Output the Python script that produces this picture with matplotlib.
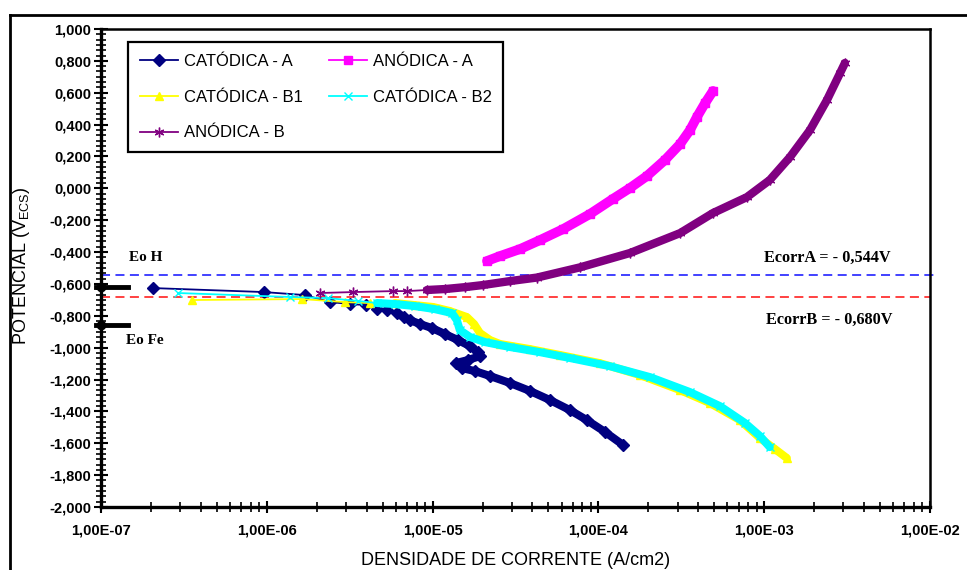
import numpy as np
import matplotlib
matplotlib.use('Agg')
import matplotlib.pyplot as plt
from matplotlib.lines import Line2D
from matplotlib.ticker import FixedLocator, FuncFormatter, LogLocator, NullFormatter

plt.rcParams['font.family'] = ['Liberation Sans', 'DejaVu Sans']
plt.rcParams['mathtext.fontset'] = 'custom'
plt.rcParams['mathtext.rm'] = 'Liberation Sans'

# Polarization curves: current density (A/cm2) vs potential (V vs SCE)
cat_a_i = [2.06e-7, 9.6e-7, 1.70e-6, 2.41e-6, 3.18e-6, 3.96e-6, 4.62e-6, 5.31e-6,
           6.10e-6, 6.72e-6, 7.31e-6, 8.40e-6, 9.92e-6, 1.19e-5, 1.42e-5, 1.68e-5,
           1.88e-5, 1.93e-5, 1.63e-5, 1.38e-5, 1.50e-5, 1.80e-5, 2.22e-5, 2.93e-5,
           3.87e-5, 5.11e-5, 6.74e-5, 8.53e-5, 1.10e-4, 1.41e-4]
cat_a_e = [-0.626, -0.651, -0.670, -0.714, -0.726, -0.733, -0.758, -0.764,
           -0.783, -0.808, -0.827, -0.852, -0.877, -0.915, -0.952, -0.990,
           -1.028, -1.053, -1.078, -1.097, -1.128, -1.147, -1.178, -1.222,
           -1.272, -1.329, -1.392, -1.455, -1.530, -1.611]
cat_a_dense = 8

an_a_i = [2.13e-5, 2.55e-5, 3.37e-5, 4.44e-5, 6.12e-5, 8.90e-5, 1.22e-4, 1.55e-4,
          1.96e-4, 2.52e-4, 3.11e-4, 3.57e-4, 3.93e-4, 4.40e-4, 4.91e-4]
an_a_e = [-0.456, -0.425, -0.381, -0.325, -0.256, -0.161, -0.067, 0.002,
          0.077, 0.178, 0.278, 0.366, 0.448, 0.535, 0.611]
an_a_dense = 0

cat_b1_i = [3.54e-7, 1.63e-6, 2.96e-6, 4.19e-6, 5.93e-6, 7.83e-6, 1.01e-5, 1.27e-5,
            1.61e-5, 1.78e-5, 1.93e-5, 2.22e-5, 2.55e-5, 3.87e-5, 5.87e-5, 1.02e-4,
            1.78e-4, 3.10e-4, 4.71e-4, 7.14e-4, 9.44e-4, 1.16e-3, 1.37e-3]
cat_b1_e = [-0.701, -0.695, -0.714, -0.720, -0.720, -0.733, -0.745, -0.770,
            -0.808, -0.852, -0.908, -0.952, -0.977, -1.009, -1.046, -1.097,
            -1.172, -1.266, -1.348, -1.455, -1.568, -1.636, -1.693]
cat_b1_dense = 4

cat_b2_i = [2.91e-7, 1.38e-6, 2.34e-6, 3.55e-6, 4.62e-6, 5.93e-6, 7.83e-6, 1.03e-5,
            1.31e-5, 1.40e-5, 1.46e-5, 1.68e-5, 2.07e-5, 2.93e-5, 4.44e-5, 6.74e-5,
            1.17e-4, 2.05e-4, 3.57e-4, 5.41e-4, 7.66e-4, 9.44e-4, 1.08e-3]
cat_b2_e = [-0.657, -0.682, -0.689, -0.707, -0.720, -0.726, -0.739, -0.758,
            -0.783, -0.827, -0.890, -0.933, -0.965, -0.996, -1.028, -1.065,
            -1.116, -1.185, -1.279, -1.367, -1.473, -1.555, -1.624]
cat_b2_dense = 4

an_b_i = [2.09e-6, 3.31e-6, 5.77e-6, 7.01e-6, 9.25e-6, 1.19e-5, 1.57e-5, 2.01e-5,
          2.93e-5, 4.26e-5, 7.74e-5, 1.55e-4, 3.11e-4, 4.91e-4, 7.87e-4, 1.08e-3,
          1.43e-3, 1.89e-3, 2.39e-3, 2.87e-3, 3.07e-3]
an_b_e = [-0.657, -0.651, -0.645, -0.645, -0.638, -0.632, -0.620, -0.607,
          -0.582, -0.560, -0.496, -0.406, -0.281, -0.155, -0.055, 0.052,
          0.196, 0.366, 0.554, 0.724, 0.787]
an_b_dense = 4

labels = ['CATÓDICA - A', 'ANÓDICA - A', 'CATÓDICA - B1', 'CATÓDICA - B2', 'ANÓDICA - B']

ecorr_a = -0.544
ecorr_b = -0.680
eo_h = -0.62
eo_fe = -0.86

fig = plt.figure(figsize=(9.67, 5.70), dpi=100)
ax = fig.add_axes([101 / 967, 1 - 507 / 570, 829 / 967, 478 / 570])


def draw(i, e, dense, color, marker, ms, band, label, z):
    ax.plot(i[dense:], e[dense:], color=color, lw=band, solid_capstyle='round',
            solid_joinstyle='round', zorder=z)
    line, = ax.plot(i, e, color=color, lw=1.3, marker=marker, ms=ms, mec=color,
                    mfc=color, label=label, zorder=z)
    return line


h_cat_a = draw(cat_a_i, cat_a_e, cat_a_dense, '#000080', 'D', 6.5, 5.8, labels[0], 3)
h_an_a = draw(an_a_i, an_a_e, an_a_dense, '#FF00FF', 's', 6, 7, labels[1], 4)
h_cat_b1 = draw(cat_b1_i, cat_b1_e, cat_b1_dense, '#FFFF00', '^', 6, 5.8, labels[2], 5)
h_cat_b2 = draw(cat_b2_i, cat_b2_e, cat_b2_dense, '#00FFFF', 'x', 6, 5.8, labels[3], 6)
h_an_b = draw(an_b_i, an_b_e, an_b_dense, '#800080', (6, 2, 0), 7, 6, labels[4], 7)

# corrosion potentials
ax.axhline(ecorr_a, color='#3333FF', lw=1.3, dashes=(5, 3), xmax=1.006, clip_on=False, zorder=2)
ax.axhline(ecorr_b, color='#FF3333', lw=1.3, dashes=(5, 3), zorder=2)

# standard potentials marked on the axis
for lvl in [eo_h, eo_fe]:
    ax.plot([9.3e-8, 1.46e-7], [lvl, lvl], color='k', lw=3.5, clip_on=False, zorder=8)
    ax.plot([1e-7], [lvl], 'o', color='k', ms=6, clip_on=False, zorder=8)

serif = dict(family='Liberation Serif', fontweight='bold')
ax.text(0.034, 0.521, 'Eo H', transform=ax.transAxes, va='center', ha='left', fontsize=11, **serif)
ax.text(0.030, 0.349, 'Eo Fe', transform=ax.transAxes, va='center', ha='left', fontsize=11, **serif)
ax.text(0.876, 0.521, 'EcorrA = - 0,544V', transform=ax.transAxes, va='center', ha='center',
        fontsize=11.7, **serif)
ax.text(0.879, 0.391, 'EcorrB = - 0,680V', transform=ax.transAxes, va='center', ha='center',
        fontsize=11.7, **serif)

# axes and ticks
ax.set_xscale('log')
ax.set_xlim(1e-7, 1e-2)
ax.set_ylim(-2.0, 1.0)
ax.yaxis.set_major_locator(FixedLocator(np.round(np.arange(-2.0, 1.001, 0.2), 1)))
ax.yaxis.set_minor_locator(FixedLocator(np.linspace(-2.0, 1.0, 91)))
ax.yaxis.set_major_formatter(FuncFormatter(
    lambda v, p: ('{:.3f}'.format(0.0 if abs(v) < 1e-9 else v)).replace('.', ',')))
ax.xaxis.set_major_locator(LogLocator(base=10, numticks=10))
ax.xaxis.set_minor_locator(LogLocator(base=10, subs=np.arange(2, 10), numticks=20))
ax.xaxis.set_minor_formatter(NullFormatter())
ax.xaxis.set_major_formatter(FuncFormatter(lambda v, p: '{:.2E}'.format(v).replace('.', ',')))

ax.tick_params(axis='y', which='major', direction='inout', length=10, width=1.5, pad=2)
ax.tick_params(axis='y', which='minor', direction='inout', length=6.5, width=1.2)
ax.tick_params(axis='x', which='major', direction='inout', length=8, width=1.5, pad=8)
ax.tick_params(axis='x', which='minor', direction='inout', length=6.5, width=1.2)
for lab in ax.get_xticklabels() + ax.get_yticklabels():
    lab.set_fontsize(10.5)
    lab.set_fontweight('bold')

for side in ['left', 'bottom']:
    ax.spines[side].set_linewidth(2.4)
for side in ['top', 'right']:
    ax.spines[side].set_linewidth(1.8)

ax.set_ylabel(r'POTENCIAL (V$_{\mathregular{ECS}}$)', fontsize=13, va='center')
ax.yaxis.set_label_coords(-0.0953, 0.504)
ax.set_xlabel('DENSIDADE DE CORRENTE (A/cm2)', fontsize=13, va='center')
ax.xaxis.set_label_coords(0.5006, -0.111)

leg = ax.legend([h_cat_a, h_cat_b1, h_an_b, h_an_a, h_cat_b2],
                [labels[0], labels[2], labels[4], labels[1], labels[3]],
                ncol=2, loc='upper left', bbox_to_anchor=(128 / 967, 1 - 42 / 570),
                bbox_transform=fig.transFigure, borderaxespad=0, fancybox=False,
                edgecolor='k', framealpha=1, fontsize=12, handlelength=2.3,
                handletextpad=0.35, labelspacing=1.25, columnspacing=1.55, borderpad=0.7)
leg.get_frame().set_linewidth(1.6)
leg.set_zorder(10)

# outer frame around the figure
fig.add_artist(Line2D([10 / 967, 10 / 967], [0, 1 - 15 / 570], color='k', lw=2))
fig.add_artist(Line2D([10 / 967, 1], [1 - 15 / 570, 1 - 15 / 570], color='k', lw=2))

fig.savefig('out.png', dpi=100)
